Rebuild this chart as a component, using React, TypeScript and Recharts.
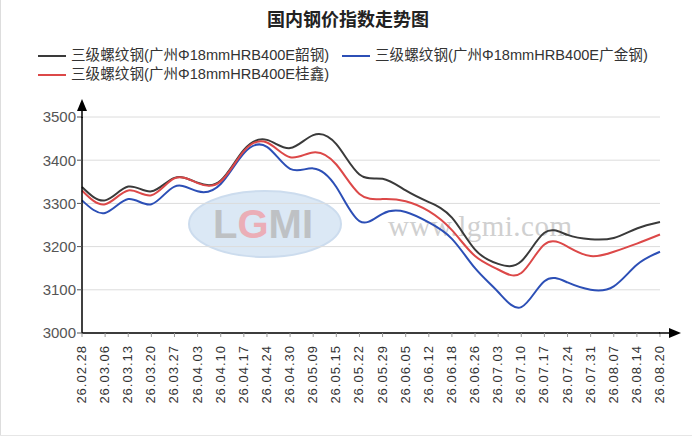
import { CartesianGrid, Line, LineChart, XAxis, YAxis } from "recharts";

// weekly index dates (yy.mm.dd)
const dates = [
  "26.02.28", "26.03.06", "26.03.13", "26.03.20", "26.03.27", "26.04.03", "26.04.10",
  "26.04.17", "26.04.24", "26.04.30", "26.05.09", "26.05.15", "26.05.22", "26.05.29",
  "26.06.05", "26.06.12", "26.06.18", "26.06.26", "26.07.03", "26.07.10", "26.07.17",
  "26.07.24", "26.07.31", "26.08.07", "26.08.14", "26.08.20",
];

const shaoGang = [
  3338, 3307, 3339, 3328, 3359, 3348, 3353, 3424, 3447, 3428, 3458, 3437, 3367,
  3357, 3330, 3303, 3267, 3193, 3160, 3166, 3232, 3227, 3217, 3220, 3242, 3257,
];
const guangJin = [
  3307, 3278, 3310, 3298, 3339, 3328, 3345, 3416, 3431, 3380, 3381, 3338, 3259,
  3276, 3280, 3256, 3218, 3150, 3095, 3060, 3120, 3117, 3100, 3108, 3158, 3188,
];
const guiXin = [
  3330, 3298, 3330, 3319, 3358, 3347, 3351, 3421, 3441, 3407, 3418, 3390, 3322,
  3310, 3305, 3282, 3238, 3178, 3147, 3139, 3205, 3200, 3178, 3188, 3207, 3228,
];

const yTicks = [3000, 3100, 3200, 3300, 3400, 3500];

const series = [
  { key: "shao", name: "三级螺纹钢(广州Φ18mmHRB400E韶钢)", color: "#3a3a3a" },
  { key: "guangjin", name: "三级螺纹钢(广州Φ18mmHRB400E广金钢)", color: "#2c4fb6" },
  { key: "guixin", name: "三级螺纹钢(广州Φ18mmHRB400E桂鑫)", color: "#dc4848" },
];

const data = dates.map((date, i) => ({
  date,
  shao: shaoGang[i],
  guangjin: guangJin[i],
  guixin: guiXin[i],
}));

const FONT = '"Liberation Sans", Arial, "Noto Sans CJK SC", sans-serif';

const XTick = ({ x, y, payload }: any) => (
  <text
    transform={`translate(${x + 4},${y + 6}) rotate(-90)`}
    textAnchor="end"
    fontSize={13}
    letterSpacing={1}
    fill="#333"
    fontFamily={FONT}
  >
    {payload.value}
  </text>
);

function LegendItem({ name, color, left, top }: any) {
  return (
    <div style={{ position: "absolute", left, top, display: "flex", alignItems: "center", whiteSpace: "nowrap" }}>
      <span style={{ display: "inline-block", width: 28, height: 2, background: color, marginRight: 5 }} />
      <span style={{ fontSize: 14.6, color: "#333", fontFamily: FONT, lineHeight: "19px" }}>{name}</span>
    </div>
  );
}

export default function App() {
  return (
    <div
      style={{
        position: "fixed",
        left: 0,
        top: 0,
        width: 692,
        height: 439,
        background: "#fff",
        overflow: "hidden",
        fontFamily: FONT,
      }}
    >
      <div style={{ position: "absolute", left: 0, top: 0, width: 1, height: 436, background: "#ddd" }} />
      <div style={{ position: "absolute", left: 0, top: 435, width: 692, height: 1, background: "#e6e6e6" }} />

      {/* watermark */}
      <svg width={692} height={439} style={{ position: "absolute", left: 0, top: 0 }}>
        <ellipse cx={265} cy={224} rx={76} ry={33} fill="#d3e3f3" stroke="#c0d4ea" strokeWidth={2} opacity={0.8} />
        <text x={263} y={238} textAnchor="middle" fontSize={40} fontWeight="bold" fill="#b8b8b8" fontFamily={FONT} opacity={0.8}>
          L<tspan fill="#f0a0a8">G</tspan>MI
        </text>
        <text x={388} y={236} fontSize={29} fill="#d0d0d0" fontFamily='"Liberation Serif", serif' letterSpacing={0.5}>
          www.lgmi.com
        </text>
      </svg>

      <div
        style={{
          position: "absolute",
          left: 0,
          top: 7,
          width: 696,
          textAlign: "center",
          fontSize: 18,
          fontWeight: "bold",
          color: "#222",
          fontFamily: '"Noto Sans CJK SC", sans-serif',
          lineHeight: "22px",
        }}
      >
        国内钢价指数走势图
      </div>

      <LegendItem name={series[0].name} color={series[0].color} left={38} top={46} />
      <LegendItem name={series[1].name} color={series[1].color} left={342} top={46} />
      <LegendItem name={series[2].name} color={series[2].color} left={38} top={65} />

      <div style={{ position: "absolute", left: 0, top: 0 }}>
        <LineChart width={692} height={439} data={data} margin={{ top: 117, right: 32, bottom: 36, left: 0 }}>
          <CartesianGrid vertical={false} stroke="#dcdcdc" />
          <XAxis
            dataKey="date"
            scale="point"
            interval={0}
            height={70}
            tick={<XTick />}
            tickSize={4}
            tickLine={{ stroke: "#999" }}
            axisLine={{ stroke: "#000", strokeWidth: 1.5 }}
          />
          <YAxis
            domain={[3000, 3500]}
            ticks={yTicks}
            width={82}
            tickSize={5}
            tickMargin={1}
            tickLine={{ stroke: "#555" }}
            axisLine={{ stroke: "#000", strokeWidth: 1.5 }}
            tick={{ fontSize: 15, fill: "#555", fontFamily: FONT }}
          />
          {series.map((s) => (
            <Line
              key={s.key}
              type="natural"
              dataKey={s.key}
              name={s.name}
              stroke={s.color}
              strokeWidth={2}
              dot={false}
              isAnimationActive={false}
            />
          ))}
        </LineChart>
      </div>

      {/* axis arrows */}
      <svg width={692} height={439} style={{ position: "absolute", left: 0, top: 0, pointerEvents: "none" }}>
        <line x1={82} y1={118} x2={82} y2={106} stroke="#000" strokeWidth={1.5} />
        <polygon points="82,99 77,111 87,111" fill="#000" />
        <line x1={659} y1={333} x2={672} y2={333} stroke="#000" strokeWidth={1.5} />
        <polygon points="681,333 669,328 669,338" fill="#000" />
      </svg>
    </div>
  );
}
